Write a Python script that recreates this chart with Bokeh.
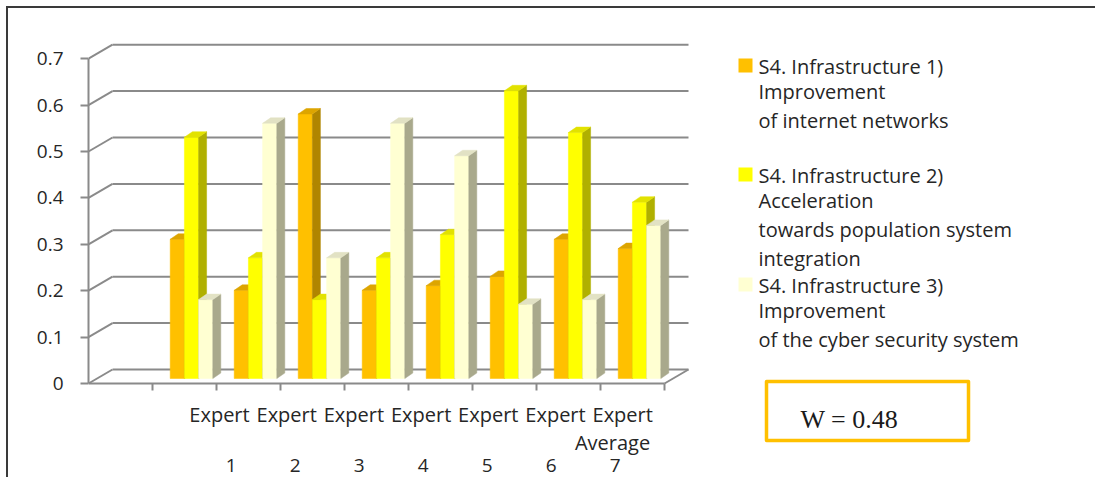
from bokeh.plotting import figure
from bokeh.models import Range1d, FixedTicker
from bokeh.core.properties import value
from bokeh.embed import file_html
from bokeh.resources import INLINE

# ---------------- data ----------------
groups = ["Expert 1", "Expert 2", "Expert 3", "Expert 4", "Expert 5", "Expert 6", "Expert 7", "Average"]
s1_internet = [0.30, 0.19, 0.57, 0.19, 0.20, 0.22, 0.30, 0.28]
s2_population = [0.52, 0.26, 0.17, 0.26, 0.31, 0.62, 0.53, 0.38]
s3_cyber = [0.17, 0.55, 0.26, 0.55, 0.48, 0.16, 0.17, 0.33]
yticks = [0, 0.1, 0.2, 0.3, 0.4, 0.5, 0.6, 0.7]
ytick_labels = ["0", "0.1", "0.2", "0.3", "0.4", "0.5", "0.6", "0.7"]
legend_lines = [
    ["S4. Infrastructure 1)", "Improvement", "of internet networks"],
    ["S4. Infrastructure 2)", "Acceleration", "towards population system", "integration"],
    ["S4. Infrastructure 3)", "Improvement", "of the cyber security system"],
]
W = 0.48

# ---------------- styling / geometry ----------------
FONT = "Open Sans"
TXT = "#262626"
GRID = "#8a8a8a"
front_cols = ["#FFC000", "#FFFF00", "#FFFFD2"]
side_cols = ["#B08500", "#B0B000", "#A9A98C"]
top_cols = ["#DDA500", "#E2E200", "#E2E2C4"]

X_PX = 64.0      # pixels per category slot
Y_PX = 464.0     # pixels per 1.0 of value
ORG_X, ORG_Y = 88, 383   # page pixel of data origin
NSLOT = 9
DX, DY = 24 / X_PX, 14 / Y_PX        # depth of the 3D walls
OX, OY = 7 / X_PX, 5 / Y_PX          # bar plane offset
BW = 14.2 / X_PX                      # bar width
SDX, SDY = 8 / X_PX, 5.5 / Y_PX      # bar depth

def dx(px):
    return (px - ORG_X) / X_PX

def dy(py):
    return (ORG_Y - py) / Y_PX

FIG_W, FIG_H = 1089, 471
LEFT = 80
p = figure(width=FIG_W, height=FIG_H,
           x_range=Range1d(0, (FIG_W - LEFT) / X_PX),
           y_range=Range1d(dy(479), dy(8)),
           output_backend="svg", toolbar_location=None,
           x_axis_location=None, y_axis_location="left",
           min_border_left=LEFT, min_border_right=0,
           min_border_top=0, min_border_bottom=0,
           background_fill_color="white", border_fill_color="white",
           outline_line_color=None)
p.grid.visible = False
p.styles = {"margin-left": "6px", "margin-top": "6px",
            "border-top": "2px solid #3a3a3a", "border-left": "2px solid #3a3a3a"}

# y axis (front)
ax = p.yaxis[0]
ax.ticker = FixedTicker(ticks=yticks)
ax.major_label_overrides = {t: l for t, l in zip(yticks, ytick_labels)}
ax.bounds = (0, max(yticks))
ax.axis_line_color = GRID
ax.axis_line_width = 2
ax.major_tick_line_color = GRID
ax.major_tick_line_width = 2
ax.major_tick_out = 8
ax.major_tick_in = 0
ax.minor_tick_line_color = None
ax.major_label_standoff = 17
ax.major_label_text_font = FONT
ax.major_label_text_font_size = "19px"
ax.major_label_text_color = TXT

# back wall gridlines and side-wall diagonals
p.segment(x0=[DX] * len(yticks), y0=[t + DY for t in yticks],
          x1=[NSLOT + DX] * len(yticks), y1=[t + DY for t in yticks],
          line_color=GRID, line_width=2)
p.segment(x0=[0] * len(yticks), y0=yticks, x1=[DX] * len(yticks),
          y1=[t + DY for t in yticks], line_color=GRID, line_width=2)
# floor front edge, right diagonal, ticks
p.segment(x0=[0, NSLOT], y0=[0, 0], x1=[NSLOT, NSLOT + DX], y1=[0, DY],
          line_color=GRID, line_width=2)
xt = list(range(1, NSLOT + 1))
p.segment(x0=xt, y0=[0] * len(xt), x1=xt, y1=[-7 / Y_PX] * len(xt),
          line_color=GRID, line_width=2)

# 3D bars
series = [s1_internet, s2_population, s3_cyber]
for k, vals in enumerate(series):
    lefts, rights, tops = [], [], []
    for i, v in enumerate(vals):
        c = i + 1.5
        l = c - 1.5 * BW + k * BW + OX
        lefts.append(l)
        rights.append(l + BW)
        tops.append(OY + v)
    bots = [OY] * len(vals)
    p.quad(left=lefts, right=rights, bottom=bots, top=tops,
           fill_color=front_cols[k], line_color=front_cols[k], line_width=0.5)
    side_xs = [[r, r + SDX, r + SDX, r] for r in rights]
    side_ys = [[OY, OY + SDY, t + SDY, t] for t in tops]
    p.patches(side_xs, side_ys, fill_color=side_cols[k], line_color=side_cols[k], line_width=0.5)
    top_xs = [[l, l + SDX, r + SDX, r] for l, r in zip(lefts, rights)]
    top_ys = [[t, t + SDY, t + SDY, t] for t in tops]
    p.patches(top_xs, top_ys, fill_color=top_cols[k], line_color=top_cols[k], line_width=0.5)

# category labels (Excel-style wrapped)
experts = [g for g in groups if g.startswith("Expert")]
words = [g.split(" ")[0] for g in experts]
nums = [g.split(" ")[1] for g in experts]
word_x = [dx(219 + 67.2 * i) for i in range(len(experts))]
num_x = [i + 2.23 for i in range(len(experts))]
p.text(x=word_x, y=[dy(414)] * len(words), text=words, text_align="center",
       text_baseline="middle", text_font=value(FONT), text_font_size="20px", text_color=TXT)
p.text(x=num_x, y=[dy(465)] * len(nums), text=nums, text_align="center",
       text_baseline="middle", text_font=value(FONT), text_font_size="19px", text_color=TXT)
p.text(x=[dx(612)], y=[dy(442)], text=[groups[-1]], text_align="center",
       text_baseline="middle", text_font=value(FONT), text_font_size="20px", text_color=TXT)

# legend
entry_y = [66, 175, 285]
line_off = [0, 25, 54, 83]
for k, lines in enumerate(legend_lines):
    p.scatter(x=[dx(745)], y=[dy(entry_y[k] - 1)], marker="square", size=14,
              fill_color=front_cols[k], line_color=None)
    p.text(x=[dx(758)] * len(lines), y=[dy(entry_y[k] + line_off[j]) for j in range(len(lines))],
           text=lines, text_align="left", text_baseline="middle",
           text_font=value(FONT), text_font_size="20px", text_color=TXT)

# W box
p.quad(left=[dx(766)], right=[dx(968)], top=[dy(381)], bottom=[dy(440)],
       fill_color=None, line_color="#FFC000", line_width=3.5, line_join="round")
p.text(x=[dx(800)], y=[dy(419)], text=[f"W = {W}"], text_align="left", text_baseline="middle",
       text_font=value("Liberation Serif"), text_font_size="26px", text_color="#1a1a1a")

open("out.html", "w").write(file_html(p, INLINE))
